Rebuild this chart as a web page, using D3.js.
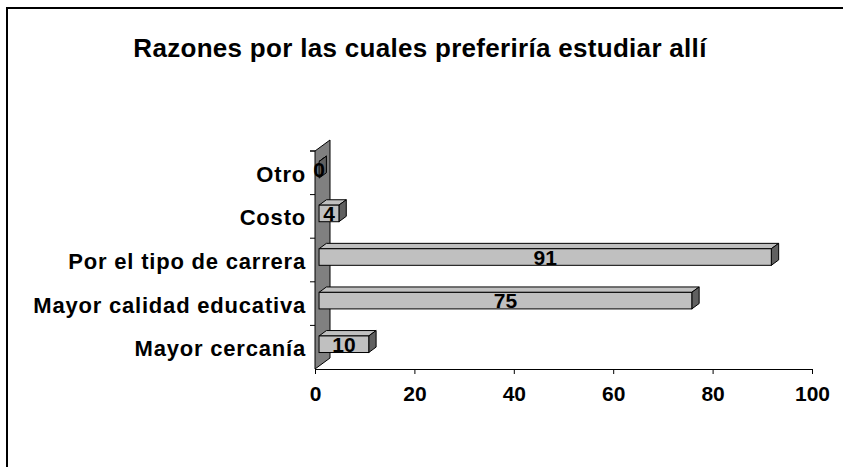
<!DOCTYPE html>
<html>
<head>
<meta charset="utf-8">
<script src="https://cdn.jsdelivr.net/npm/d3@7"></script>
<style>
  body { margin: 0; background: #fff; }
  svg text { font-family: "Liberation Sans", Arial, sans-serif; font-weight: bold; fill: #000; }
</style>
</head>
<body>
<svg id="chart" width="843" height="467"></svg>
<script>
// data
var title = 'Razones por las cuales preferiría estudiar allí';
var categories = ['Mayor cercanía', 'Mayor calidad educativa', 'Por el tipo de carrera', 'Costo', 'Otro'];
var values = [10, 75, 91, 4, 0];
var xTicks = [0, 20, 40, 60, 80, 100];

var svg = d3.select('#chart');

// 3d depth of the floor / wall, and where the bars sit in it
var depth = { dx: 15, dy: -11 };
var barFront = 0.27, barBack = 0.76, barFrac = 0.38;

var x = d3.scaleLinear().domain([0, 100]).range([315, 812]);
var y = d3.scaleBand().domain(categories).range([369, 151]);

// outer frame
svg.append('rect')
  .attr('x', 7).attr('y', 8)
  .attr('width', 860).attr('height', 480)
  .attr('fill', 'none')
  .attr('stroke', '#000')
  .attr('stroke-width', 2);

svg.append('text')
  .attr('x', 420).attr('y', 57)
  .attr('text-anchor', 'middle')
  .style('font-size', '26px')
  .style('letter-spacing', '0.3px')
  .text(title);

// back wall
var wx = x(0), wTop = y.range()[1], wBot = y.range()[0];
svg.append('path')
  .attr('d', 'M' + wx + ',' + wBot + 'L' + wx + ',' + wTop +
    'L' + (wx + depth.dx) + ',' + (wTop + depth.dy) +
    'L' + (wx + depth.dx) + ',' + (wBot + depth.dy) + 'Z')
  .attr('fill', '#808080')
  .attr('stroke', '#000')
  .attr('stroke-width', 1);

// category tick marks on band edges
var edges = categories.map(function(c) { return y(c); }).concat([y.range()[1]]);
svg.append('g').selectAll('line')
  .data(edges)
  .enter().append('line')
    .attr('x1', wx - 5).attr('x2', wx)
    .attr('y1', function(d) { return d; })
    .attr('y2', function(d) { return d; })
    .attr('stroke', '#000');

// category labels
var yAxis = svg.append('g')
  .attr('transform', 'translate(' + wx + ',0)')
  .call(d3.axisLeft(y).tickSize(0).tickPadding(9));
yAxis.select('.domain').remove();
yAxis.selectAll('text')
  .attr('dy', '0.36em')
  .attr('y', 1)
  .style('font-size', '22px')
  .style('letter-spacing', '0.8px')
  .style('font-family', '"Liberation Sans", Arial, sans-serif');

// value axis
var xAxis = svg.append('g')
  .attr('transform', 'translate(0,' + wBot + ')')
  .call(d3.axisBottom(x).tickValues(xTicks).tickSizeInner(5).tickSizeOuter(0).tickPadding(12));
xAxis.select('.domain').attr('stroke', '#000');
xAxis.selectAll('.tick line').attr('stroke', '#000');
xAxis.selectAll('text')
  .style('font-size', '21px')
  .style('font-family', '"Liberation Sans", Arial, sans-serif');

// bars
var data = categories.map(function(c, i) {
  var bw = y.bandwidth() * barFrac;
  var cy = y(c) + y.bandwidth() / 2 + barFront * depth.dy;
  return {
    cat: c,
    value: values[i],
    x0: x(0) + barFront * depth.dx,
    x1: x(values[i]) + barFront * depth.dx,
    yt: cy - bw / 2,
    yb: cy + bw / 2
  };
});
var ddx = (barBack - barFront) * depth.dx;
var ddy = (barBack - barFront) * depth.dy;

var bars = svg.append('g').selectAll('g')
  .data(data)
  .enter().append('g');

bars.append('path')
  .attr('d', function(d) {
    return 'M' + d.x0 + ',' + d.yt + 'L' + (d.x0 + ddx) + ',' + (d.yt + ddy) +
      'L' + (d.x1 + ddx) + ',' + (d.yt + ddy) + 'L' + d.x1 + ',' + d.yt + 'Z';
  })
  .attr('fill', '#c0c0c0')
  .attr('stroke', '#000')
  .attr('stroke-linejoin', 'round');

bars.append('path')
  .attr('d', function(d) {
    return 'M' + d.x1 + ',' + d.yt + 'L' + (d.x1 + ddx) + ',' + (d.yt + ddy) +
      'L' + (d.x1 + ddx) + ',' + (d.yb + ddy) + 'L' + d.x1 + ',' + d.yb + 'Z';
  })
  .attr('fill', '#606060')
  .attr('stroke', '#000')
  .attr('stroke-linejoin', 'round');

bars.append('rect')
  .attr('x', function(d) { return d.x0; })
  .attr('y', function(d) { return d.yt; })
  .attr('width', function(d) { return d.x1 - d.x0; })
  .attr('height', function(d) { return d.yb - d.yt; })
  .attr('fill', '#c0c0c0')
  .attr('stroke', '#000');

bars.append('text')
  .attr('x', function(d) { return (d.x0 + d.x1) / 2; })
  .attr('y', function(d) { return (d.yt + d.yb) / 2; })
  .attr('dy', '0.36em')
  .attr('text-anchor', 'middle')
  .style('font-size', '21px')
  .text(function(d) { return d.value; });
</script>
</body>
</html>
